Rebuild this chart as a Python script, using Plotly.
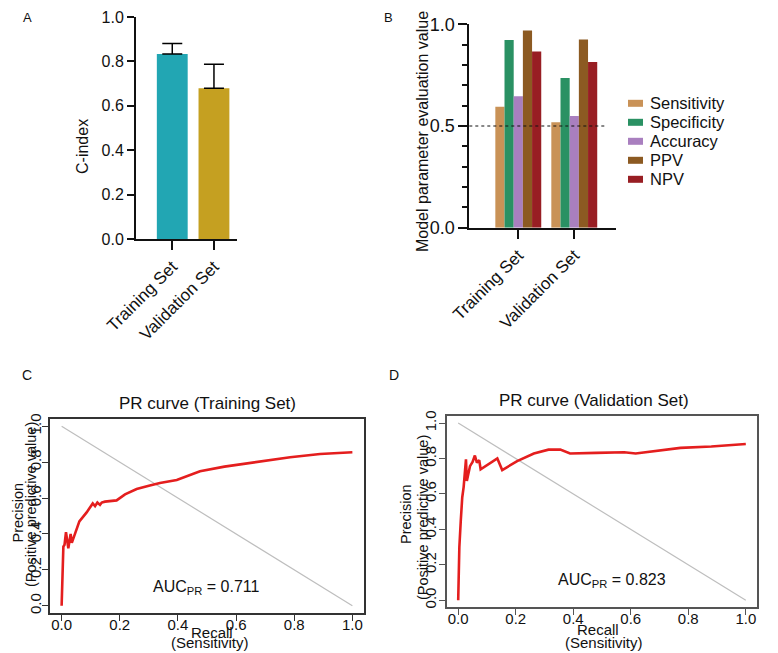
import plotly.graph_objects as go

# ---------------- data ----------------
cindex_sets = ["Training Set", "Validation Set"]
cindex_values = [0.833, 0.679]
cindex_err = [0.048, 0.108]
cindex_colors = ["#22A6B3", "#C5A021"]

eval_sets = ["Training Set", "Validation Set"]
metric_names = ["Sensitivity", "Specificity", "Accuracy", "PPV", "NPV"]
metric_colors = ["#C99257", "#2A9163", "#A97FBF", "#8C5A22", "#981E23"]
sensitivity = [0.595, 0.518]
specificity = [0.923, 0.736]
accuracy = [0.646, 0.549]
ppv = [0.970, 0.925]
npv = [0.866, 0.815]
threshold = 0.5

diag_x = [0, 1]
diag_y = [1, 0]

train_recall = [0.0, 0.006, 0.010, 0.015, 0.023, 0.031, 0.035, 0.041, 0.046, 0.061,
                0.086, 0.100, 0.107, 0.115, 0.123, 0.132, 0.138, 0.149, 0.175, 0.189,
                0.218, 0.258, 0.300, 0.338, 0.396, 0.476, 0.560, 0.648, 0.720, 0.786,
                0.889, 1.0]
train_precision = [0.0, 0.33, 0.34, 0.41, 0.32, 0.40, 0.35, 0.38, 0.40, 0.47,
                   0.52, 0.55, 0.57, 0.555, 0.575, 0.562, 0.575, 0.58, 0.582, 0.587,
                   0.62, 0.65, 0.668, 0.684, 0.70, 0.749, 0.775, 0.795, 0.812, 0.827,
                   0.845, 0.855]

val_recall = [0.0, 0.004, 0.009, 0.014, 0.019, 0.027, 0.030, 0.041, 0.050, 0.058,
              0.065, 0.073, 0.078, 0.136, 0.153, 0.205, 0.263, 0.314, 0.355, 0.389,
              0.480, 0.577, 0.617, 0.700, 0.773, 0.880, 1.0]
val_precision = [0.0, 0.30, 0.45, 0.58, 0.64, 0.795, 0.673, 0.757, 0.78, 0.817,
                 0.776, 0.791, 0.739, 0.80, 0.735, 0.785, 0.828, 0.85, 0.85, 0.828,
                 0.832, 0.835, 0.828, 0.845, 0.86, 0.868, 0.882]

auc_train = 0.711
auc_val = 0.823

# ---------------- helpers ----------------
OFF = 8                      # page body margin of the html page
W, H = 778 - OFF, 653 - OFF  # figure size so the page fits the window
FONT = "Liberation Sans, Arial, sans-serif"


def fx(p):
    return (p - OFF) / W


def fy(p):
    return 1 - (p - OFF) / H


a_pos = list(range(len(cindex_sets)))
b_pos = list(range(len(eval_sets)))

fig = go.Figure()

# Panel A
fig.add_trace(go.Bar(
    x=a_pos, y=cindex_values, width=0.74,
    marker=dict(color=cindex_colors, line=dict(width=0)),
    error_y=dict(type="data", symmetric=False, array=cindex_err, arrayminus=[0, 0],
                 color="black", thickness=1.5, width=10),
    xaxis="x", yaxis="y", showlegend=False))

# Panel B
for name, vals, col in zip(metric_names, [sensitivity, specificity, accuracy, ppv, npv], metric_colors):
    fig.add_trace(go.Bar(x=b_pos, y=vals, name=name,
                         marker=dict(color=col, line=dict(width=0)),
                         xaxis="x2", yaxis="y2", showlegend=False))

# Panel C
fig.add_trace(go.Scatter(x=diag_x, y=diag_y, mode="lines", line=dict(color="#BEBEBE", width=1.2),
                         xaxis="x3", yaxis="y3", showlegend=False))
fig.add_trace(go.Scatter(x=train_recall, y=train_precision, mode="lines",
                         line=dict(color="#E41E1E", width=2.6),
                         xaxis="x3", yaxis="y3", showlegend=False))
# Panel D
fig.add_trace(go.Scatter(x=diag_x, y=diag_y, mode="lines", line=dict(color="#BEBEBE", width=1.2),
                         xaxis="x4", yaxis="y4", showlegend=False))
fig.add_trace(go.Scatter(x=val_recall, y=val_precision, mode="lines",
                         line=dict(color="#E41E1E", width=2.6),
                         xaxis="x4", yaxis="y4", showlegend=False))

black = "#111111"
bar_x_common = dict(type="linear", showline=True, linecolor=black, linewidth=2,
                    ticks="outside", ticklen=9, tickwidth=2, tickcolor=black,
                    tickangle=-45, tickfont=dict(size=17, color=black, family=FONT),
                    showgrid=False, zeroline=False, automargin=False)

pr_box = dict(showline=True, mirror=True, linewidth=1.5, ticks="outside", ticklen=6,
              tickwidth=1.2, range=[-0.04, 1.04], dtick=0.2, tick0=0, tickformat=".1f",
              showgrid=False, zeroline=False, automargin=False,
              tickfont=dict(size=15, color=black, family=FONT))

fig.update_layout(
    template="none",
    width=W, height=H, margin=dict(l=0, r=0, t=0, b=0, pad=0, autoexpand=False),
    paper_bgcolor="white", plot_bgcolor="white",
    font=dict(family=FONT, color=black),
    barmode="group", bargap=0.18, bargroupgap=0,
    xaxis=dict(domain=[fx(136), fx(237.3)], anchor="y", range=[-0.87, 1.56],
               tickmode="array", tickvals=a_pos, ticktext=cindex_sets, **bar_x_common),
    yaxis=dict(domain=[fy(239), fy(17)], anchor="x", range=[0, 1], dtick=0.2, tick0=0,
               tickformat=".1f", showline=True, linecolor=black, linewidth=2,
               ticks="outside", ticklen=7, tickwidth=2, tickcolor=black,
               tickfont=dict(size=16, color=black, family=FONT),
               showgrid=False, zeroline=False, automargin=False),
    xaxis2=dict(domain=[fx(469.3), fx(615.7)], anchor="y2", range=[-0.875, 1.74],
                tickmode="array", tickvals=b_pos, ticktext=eval_sets, **bar_x_common),
    yaxis2=dict(domain=[fy(227.7), fy(24.3)], anchor="x2", range=[0, 1], dtick=0.5, tick0=0,
                tickformat=".1f", showline=True, linecolor=black, linewidth=2,
                ticks="outside", ticklen=9, tickwidth=2, tickcolor=black,
                minor=dict(dtick=0.1, ticks="outside", ticklen=5, tickwidth=1.5, tickcolor=black),
                tickfont=dict(size=18, color=black, family=FONT),
                showgrid=False, zeroline=False, automargin=False),
    xaxis3=dict(domain=[fx(50), fx(364)], anchor="y3", linecolor="#333333", tickcolor="#333333",
                ticklabelstandoff=-9, **pr_box),
    yaxis3=dict(domain=[fy(613), fy(419)], anchor="x3", linecolor="#333333", tickcolor="#333333",
                tickangle=-90, ticklabelstandoff=-5, **pr_box),
    xaxis4=dict(domain=[fx(446.7), fx(757.3)], anchor="y4", linecolor="#555555", tickcolor="#555555",
                ticklabelstandoff=-9, **pr_box),
    yaxis4=dict(domain=[fy(607.3), fy(416)], anchor="x4", linecolor="#555555", tickcolor="#555555",
                tickangle=-90, ticklabelstandoff=-3, **pr_box),
)

# threshold line in B
fig.add_shape(type="line", xref="x2 domain", yref="y2", x0=0, x1=0.927,
              y0=threshold, y1=threshold, line=dict(color=black, width=1, dash="dot"))

# manual legend for B
for i, (name, col) in enumerate(zip(metric_names, metric_colors)):
    cy = 103.3 + 19 * i
    fig.add_shape(type="rect", xref="paper", yref="paper", x0=fx(628), x1=fx(643),
                  y0=fy(cy + 3.5), y1=fy(cy - 3.5), fillcolor=col, line=dict(width=0))
    fig.add_annotation(x=fx(648), y=fy(cy), xref="paper", yref="paper", text=name,
                       showarrow=False, xanchor="left", yanchor="middle",
                       font=dict(size=16.5, color=black, family=FONT))


def ann(x, y, text, size, angle=0, color=black, yanchor="middle", yval=None):
    fig.add_annotation(x=fx(x), y=fy(y) if yval is None else yval, xref="paper", yref="paper",
                       text=text, showarrow=False, xanchor="center", yanchor=yanchor,
                       textangle=angle, font=dict(size=size, color=color, family=FONT))


# panel letters
ann(27.5, 0, "A", 13, yanchor="top", yval=1.0)
ann(388, 0, "B", 13, yanchor="top", yval=1.0)
ann(26.5, 375, "C", 14)
ann(394, 375, "D", 14)

# axis titles
ann(82, 147, "C-index", 16, -90)
ann(423, 132, "Model parameter evaluation value", 16, -90)

ann(208, 403, "PR curve (Training Set)", 17)
ann(594, 400, "PR curve (Validation Set)", 17)

ann(17.5, 513, "Precision", 14.5, -90)
ann(31, 505, "(Positive predictive value)", 14.5, -90)
ann(406, 514, "Precision", 14.5, -90)
ann(423, 518, "(Positive predictive value)", 14.5, -90)

ann(212, 632, "Recall", 15)
ann(210, 0, "(Sensitivity)", 15, yanchor="bottom", yval=0.0)
ann(598, 629, "Recall", 15)
ann(604, 0, "(Sensitivity)", 15, yanchor="bottom", yval=0.0)

ann(207, 587, "AUC<sub>PR</sub> = %.3f" % auc_train, 16)
ann(611.7, 580.7, "AUC<sub>PR</sub> = %.3f" % auc_val, 16)

fig.write_html("out.html")
